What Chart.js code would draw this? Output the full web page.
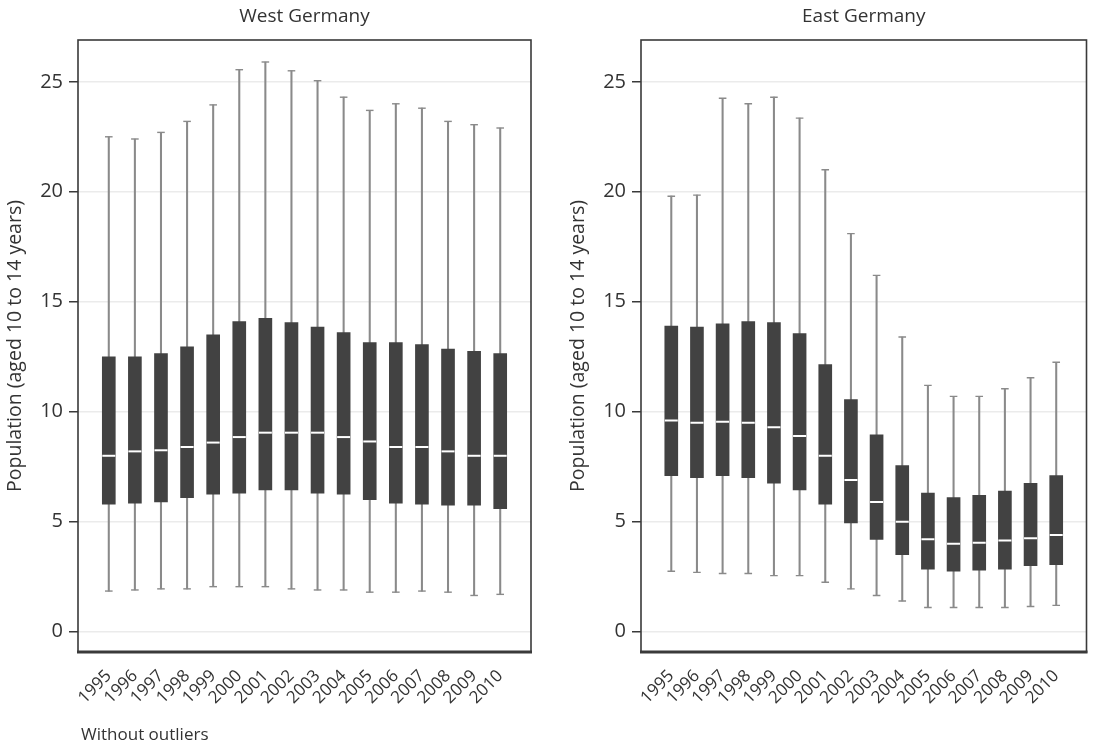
<!DOCTYPE html>
<html>
<head>
<meta charset="utf-8">
<script src="https://cdn.jsdelivr.net/npm/chart.js@4.4.1/dist/chart.umd.min.js"></script>
<style>
  body { margin: 0; background: #fff; }
  .wrap { position: relative; width: 1095px; height: 747px; }
  .panel { position: absolute; top: 0; height: 747px; }
  .note { position: absolute; left: 81px; top: 722px; font: 17px "Open Sans", sans-serif; color: #333; }
</style>
</head>
<body>
<div class="wrap">
  <div class="panel" style="left:0;width:563px"><canvas id="westChart"></canvas></div>
  <div class="panel" style="left:563px;width:532px"><canvas id="eastChart"></canvas></div>
  <div class="note">Without outliers</div>
</div>
<script>
const years = ["1995", "1996", "1997", "1998", "1999", "2000", "2001", "2002",
  "2003", "2004", "2005", "2006", "2007", "2008", "2009", "2010"];
const yTicks = [0, 5, 10, 15, 20, 25];

// West Germany (whisker ends, quartiles, median)
const westMin = [1.85, 1.9, 1.95, 1.95, 2.05, 2.05, 2.05, 1.95, 1.9, 1.9, 1.8, 1.8, 1.85, 1.8, 1.65, 1.7];
const westQ1 = [5.8, 5.85, 5.9, 6.1, 6.25, 6.3, 6.45, 6.45, 6.3, 6.25, 6.0, 5.85, 5.8, 5.75, 5.75, 5.6];
const westMed = [8.0, 8.2, 8.25, 8.4, 8.6, 8.85, 9.05, 9.05, 9.05, 8.85, 8.65, 8.4, 8.4, 8.2, 8.0, 8.0];
const westQ3 = [12.5, 12.5, 12.65, 12.95, 13.5, 14.1, 14.25, 14.05, 13.85, 13.6, 13.15, 13.15, 13.05, 12.85, 12.75, 12.65];
const westMax = [22.5, 22.4, 22.7, 23.2, 23.95, 25.55, 25.9, 25.5, 25.05, 24.3, 23.7, 24.0, 23.8, 23.2, 23.05, 22.9];

// East Germany
const eastMin = [2.75, 2.7, 2.65, 2.65, 2.55, 2.55, 2.25, 1.95, 1.65, 1.4, 1.1, 1.1, 1.1, 1.1, 1.15, 1.2];
const eastQ1 = [7.1, 7.0, 7.1, 7.0, 6.75, 6.45, 5.8, 4.95, 4.2, 3.5, 2.85, 2.75, 2.8, 2.85, 3.0, 3.05];
const eastMed = [9.6, 9.5, 9.55, 9.5, 9.3, 8.9, 8.0, 6.9, 5.9, 5.0, 4.2, 4.0, 4.05, 4.15, 4.25, 4.4];
const eastQ3 = [13.9, 13.85, 14.0, 14.1, 14.05, 13.55, 12.15, 10.55, 8.95, 7.55, 6.3, 6.1, 6.2, 6.4, 6.75, 7.1];
const eastMax = [19.8, 19.85, 24.25, 24.0, 24.3, 23.35, 21.0, 18.1, 16.2, 13.4, 11.2, 10.7, 10.7, 11.05, 11.55, 12.25];

Chart.defaults.font.family = "'Open Sans', sans-serif";
Chart.defaults.color = "#333";

const boxColor = "#424242";
const whiskerColor = "#8a8a8a";

// frame round the plot area, bottom edge a bit heavier
const framePlugin = {
  id: "frame",
  afterDraw: (chart) => {
    const { ctx, chartArea: a } = chart;
    ctx.save();
    ctx.strokeStyle = "#3a3a3a";
    ctx.lineWidth = 1.6;
    ctx.strokeRect(a.left, a.top, a.right - a.left, a.bottom - a.top);
    ctx.lineWidth = 3;
    ctx.beginPath();
    ctx.moveTo(a.left - 1, a.bottom);
    ctx.lineTo(a.right + 1, a.bottom);
    ctx.stroke();
    ctx.restore();
  },
};

const makeChart = (id, title, mins, q1s, meds, q3s, maxs) => {
  const ctx = document.getElementById(id).getContext("2d");
  return new Chart(ctx, {
    type: "bar",
    data: {
      datasets: [
        {
          type: "bar",
          data: years.map((y, i) => ({ x: i, y: [mins[i], maxs[i]] })),
          backgroundColor: whiskerColor,
          barThickness: 1.4,
          grouped: false,
          order: 4,
        },
        {
          type: "bar",
          data: years.map((y, i) => ({ x: i, y: [q1s[i], q3s[i]] })),
          backgroundColor: boxColor,
          barThickness: 13,
          grouped: false,
          order: 3,
        },
        {
          type: "scatter",
          data: years.map((y, i) => ({ x: i, y: meds[i] })),
          pointStyle: "line",
          pointRadius: 6.5,
          borderColor: "#fff",
          borderWidth: 2,
          order: 2,
        },
        {
          type: "scatter",
          data: years.flatMap((y, i) => [{ x: i, y: mins[i] }, { x: i, y: maxs[i] }]),
          pointStyle: "line",
          pointRadius: 3.8,
          borderColor: whiskerColor,
          borderWidth: 1.4,
          order: 1,
        },
      ],
    },
    options: {
      responsive: false,
      animation: false,
      events: [],
      layout: { padding: { left: 0, right: id === "westChart" ? 32 : 3, top: 0, bottom: 0 } },
      plugins: {
        legend: { display: false },
        tooltip: { enabled: false },
        title: {
          display: true,
          text: title,
          fullSize: false,
          font: { size: 19, weight: "normal", lineHeight: 1.2 },
          color: "#333",
          padding: { top: 5, bottom: 12.2 },
        },
      },
      scales: {
        x: {
          type: "linear",
          min: -1.18,
          max: 16.18,
          offset: false,
          grid: { display: false, offset: false },
          border: { display: false },
          afterBuildTicks: (scale) => {
            scale.ticks = years.map((y, i) => ({ value: i }));
          },
          afterFit: (scale) => {
            scale.height = 747 - 652;
          },
          ticks: {
            autoSkip: false,
            minRotation: 45,
            maxRotation: 45,
            padding: 6,
            font: { size: 17 },
            color: "#333",
            callback: (v) => years[v],
          },
        },
        y: {
          min: -0.92,
          max: 26.9,
          grid: {
            color: "#ebebeb",
            lineWidth: 1.5,
            tickColor: "#3a3a3a",
            tickLength: 9,
          },
          border: { display: false },
          afterBuildTicks: (scale) => {
            scale.ticks = yTicks.map((v) => ({ value: v }));
          },
          afterFit: (scale) => {
            scale.width = 78;
          },
          ticks: {
            padding: 6,
            font: { size: 20 },
            color: "#333",
          },
          title: {
            display: true,
            text: "Population (aged 10 to 14 years)",
            font: { size: 19.5, lineHeight: 1.2 },
            color: "#333",
            padding: { top: 4, bottom: 0 },
          },
        },
      },
    },
    plugins: [framePlugin],
  });
};

const sizeCanvas = (id, w) => {
  const c = document.getElementById(id);
  c.width = w;
  c.height = 747;
  c.style.width = w + "px";
  c.style.height = "747px";
};

sizeCanvas("westChart", 563);
sizeCanvas("eastChart", 532);

makeChart("westChart", "West Germany", westMin, westQ1, westMed, westQ3, westMax);
makeChart("eastChart", "East Germany", eastMin, eastQ1, eastMed, eastQ3, eastMax);
</script>
</body>
</html>
